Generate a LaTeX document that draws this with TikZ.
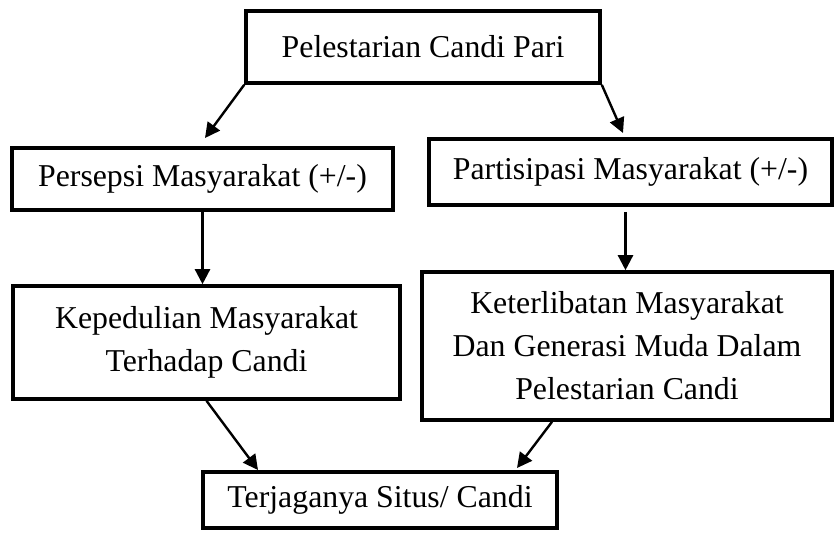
\documentclass[tikz,border=0pt]{standalone}
\usepackage{fontspec}
\setmainfont{Liberation Serif}
\usetikzlibrary{positioning, arrows.meta}

\begin{document}
\begin{tikzpicture}[
  x=0.5pt,
  y=-0.5pt,
  every node/.style={
    font=\fontsize{15.9}{21.5}\selectfont,
    align=center,
    inner sep=0mm
  },
  box/.style={
    draw,
    rectangle,
    line width=1.8pt
  },
  flow arrow/.style={
    -{Triangle[length=7.5pt, width=7.5pt]},
    line width=1.2pt
  }
]

\useasboundingbox (0,0) rectangle (840,532);

\node(pelestarian)[box, minimum width=177pt, minimum height=36pt] at (423,47) {Pelestarian Candi Pari};

\node(persepsi)[box, minimum width=190.5pt, minimum height=31pt] at (202.5,179) {Persepsi Masyarakat (+/-)};
\node(partisipasi)[box, minimum width=201.5pt, minimum height=33pt] at (630.5,172) {Partisipasi Masyarakat (+/-)};

\node(kepedulian)[box, minimum width=193.5pt, minimum height=56.5pt] at (206.5,342.5) {Kepedulian Masyarakat\\Terhadap Candi};
\node(keterlibatan)[box, minimum width=205pt, minimum height=74pt] at (627,346) {Keterlibatan Masyarakat\\Dan Generasi Muda Dalam\\Pelestarian Candi};

\node(terjaganya)[box, minimum width=177pt, minimum height=28pt] at (380,500) {Terjaganya Situs/ Candi};

\coordinate (persepsi_in) at (205,138);
\coordinate (partisipasi_in) at (623,133);
\coordinate (terjaganya_left) at (258,470);
\coordinate (terjaganya_right) at (517,468);

\draw[flow arrow] (pelestarian.south west) -- (persepsi_in);
\draw[flow arrow] (pelestarian.south east) -- (partisipasi_in);
\draw[flow arrow] (persepsi.south) -- (persepsi.south |- kepedulian.north);
\draw[flow arrow, shorten <=2.5pt] ([xshift=-2.5pt]partisipasi.south) -- ([xshift=-2.5pt]partisipasi.south |- keterlibatan.north);
\draw[flow arrow] (kepedulian.south) -- (terjaganya_left);
\draw[flow arrow] ([xshift=-37.5pt]keterlibatan.south) -- (terjaganya_right);

\end{tikzpicture}
\end{document}
